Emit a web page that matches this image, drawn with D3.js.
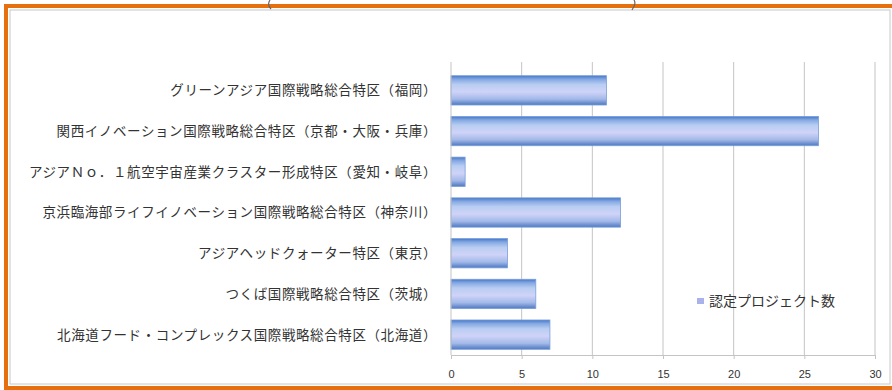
<!DOCTYPE html>
<html>
<head>
<meta charset="utf-8">
<script src="https://cdn.jsdelivr.net/npm/d3@7"></script>
<style>
  body { margin: 0; background: #fff; }
  svg { display: block; font-family: "Noto Sans CJK JP", "Noto Sans", sans-serif; }
</style>
</head>
<body>
<svg width="892" height="390"></svg>
<script>
// categories, top to bottom as drawn
var zones = [
  "グリーンアジア国際戦略総合特区（福岡）",
  "関西イノベーション国際戦略総合特区（京都・大阪・兵庫）",
  "アジアＮｏ．１航空宇宙産業クラスター形成特区（愛知・岐阜）",
  "京浜臨海部ライフイノベーション国際戦略総合特区（神奈川）",
  "アジアヘッドクォーター特区（東京）",
  "つくば国際戦略総合特区（茨城）",
  "北海道フード・コンプレックス国際戦略総合特区（北海道）"
];
var projects = [11, 26, 1, 12, 4, 6, 7];
var xTicks = [0, 5, 10, 15, 20, 25, 30];
var seriesName = "認定プロジェクト数";

var svg = d3.select("svg");

// outer frame: light gray chart border + orange highlight
svg.append("rect")
  .attr("x", 10).attr("y", 10)
  .attr("width", 880).attr("height", 374)
  .attr("fill", "#fff")
  .attr("stroke", "#c8c8c8");

svg.append("path")
  .attr("d", "M892,6H6V388H892")
  .attr("fill", "none")
  .attr("stroke", "#e6700e")
  .attr("stroke-width", 4);

// bits of the cut-off title bracket showing above the frame
svg.append("path")
  .attr("d", "M270,0C268,3 268,6 271,9M634,0C636,3 635,6 632,10")
  .attr("fill", "none")
  .attr("stroke", "#666")
  .attr("stroke-width", 1.2);

var x = d3.scaleLinear().domain([0, 30]).range([451, 875]);
var y = d3.scaleBand().domain(zones).range([70, 355]).paddingInner(0.28).paddingOuter(0.14);

var defs = svg.append("defs");
var grad = defs.append("linearGradient")
  .attr("id", "barGrad")
  .attr("x1", 0).attr("y1", 0).attr("x2", 0).attr("y2", 1);
[[0, "#4378c8"], [0.12, "#84a7e2"], [0.3, "#b8cdf2"], [0.55, "#d0d3f8"], [0.8, "#a2b9e8"], [0.92, "#6f90d0"], [1, "#4d7bc2"]]
  .forEach(function(s) {
    grad.append("stop").attr("offset", s[0]).attr("stop-color", s[1]);
  });

// gridlines
svg.append("g")
  .selectAll("line")
  .data(xTicks.slice(1))
  .enter().append("line")
  .attr("x1", function(d) { return x(d); })
  .attr("x2", function(d) { return x(d); })
  .attr("y1", 62).attr("y2", 355)
  .attr("stroke", "#c4c4c4");

// bars
svg.append("g")
  .selectAll("rect")
  .data(zones)
  .enter().append("rect")
  .attr("x", x(0))
  .attr("y", function(d) { return y(d); })
  .attr("width", function(d, i) { return x(projects[i]) - x(0); })
  .attr("height", y.bandwidth())
  .attr("fill", "url(#barGrad)")
  .attr("stroke", "#7a9edb")
  .attr("stroke-width", 0.8);

// category labels
svg.append("g")
  .selectAll("text")
  .data(zones)
  .enter().append("text")
  .attr("x", 437)
  .attr("y", function(d) { return y(d) + y.bandwidth() / 2; })
  .attr("dy", "0.36em")
  .attr("text-anchor", "end")
  .attr("font-size", 13.5)
  .attr("letter-spacing", 0.6)
  .attr("fill", "#333")
  .text(function(d) { return d; });

// x axis
var xAxis = svg.append("g")
  .attr("transform", "translate(0,355)")
  .call(d3.axisBottom(x).tickValues(xTicks).tickSize(4).tickPadding(11));
xAxis.select(".domain").attr("stroke", "#c4c4c4");
xAxis.selectAll(".tick line").attr("stroke", "#c4c4c4");
xAxis.selectAll(".tick text")
  .attr("font-size", 11)
  .attr("fill", "#333");

// y axis line
svg.append("line")
  .attr("x1", x(0)).attr("x2", x(0))
  .attr("y1", 62).attr("y2", 355)
  .attr("stroke", "#c4c4c4");

// legend
var legend = svg.append("g").attr("transform", "translate(697,301)");
legend.append("rect")
  .attr("x", 0).attr("y", -3)
  .attr("width", 7).attr("height", 6)
  .attr("fill", "#a9b2ea");
legend.append("text")
  .attr("x", 12).attr("y", 0)
  .attr("dy", "0.36em")
  .attr("font-size", 14)
  .attr("fill", "#333")
  .text(seriesName);
</script>
</body>
</html>
